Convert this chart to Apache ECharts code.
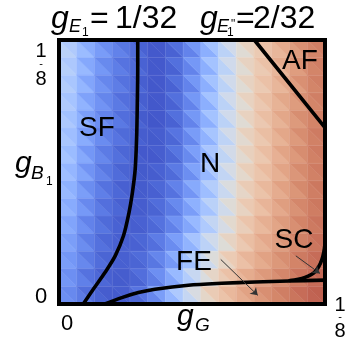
<!DOCTYPE html>
<html>
<head>
<meta charset="utf-8">
<script src="https://cdn.jsdelivr.net/npm/echarts@6/dist/echarts.min.js"></script>
<style>
  html, body { margin: 0; padding: 0; background: #fff; }
  #chart { width: 346px; height: 342px; }
</style>
</head>
<body>
<div id="chart"></div>
<script>
// Phase diagram in the (g_G, g_B1) plane, both couplings running from 0 to 1/8.
const G_MAX = 0.125;
const N_COLS = 15;
const N_ROWS = 15;

// Order-parameter map on a 15 x 15 grid, rows listed from g_B1 = 1/8 (top) down to 0.
// 0 = deep blue, 0.5 = neutral, 1 = deep red.
const cellValues = [
  [0.38, 0.26, 0.17, 0.11, 0.06, 0.02, 0.06, 0.15, 0.28, 0.42, 0.54, 0.61, 0.68, 0.76, 0.83],
  [0.37, 0.25, 0.16, 0.10, 0.06, 0.02, 0.06, 0.15, 0.28, 0.42, 0.54, 0.61, 0.68, 0.76, 0.83],
  [0.36, 0.24, 0.15, 0.10, 0.05, 0.02, 0.06, 0.15, 0.28, 0.42, 0.54, 0.61, 0.68, 0.76, 0.83],
  [0.35, 0.23, 0.15, 0.09, 0.05, 0.02, 0.06, 0.15, 0.28, 0.42, 0.54, 0.62, 0.69, 0.76, 0.83],
  [0.34, 0.22, 0.14, 0.09, 0.04, 0.02, 0.06, 0.15, 0.28, 0.42, 0.54, 0.62, 0.69, 0.77, 0.83],
  [0.33, 0.21, 0.13, 0.08, 0.04, 0.03, 0.07, 0.16, 0.29, 0.43, 0.55, 0.62, 0.69, 0.77, 0.84],
  [0.32, 0.20, 0.12, 0.07, 0.03, 0.03, 0.07, 0.17, 0.30, 0.43, 0.55, 0.62, 0.70, 0.77, 0.84],
  [0.30, 0.19, 0.11, 0.06, 0.03, 0.04, 0.08, 0.18, 0.31, 0.44, 0.56, 0.63, 0.70, 0.78, 0.84],
  [0.28, 0.17, 0.10, 0.05, 0.03, 0.05, 0.10, 0.20, 0.33, 0.46, 0.57, 0.64, 0.71, 0.78, 0.85],
  [0.26, 0.16, 0.09, 0.05, 0.03, 0.06, 0.12, 0.22, 0.35, 0.48, 0.58, 0.65, 0.72, 0.79, 0.85],
  [0.24, 0.14, 0.08, 0.04, 0.04, 0.07, 0.14, 0.25, 0.38, 0.50, 0.60, 0.67, 0.73, 0.80, 0.86],
  [0.22, 0.13, 0.07, 0.04, 0.05, 0.09, 0.17, 0.29, 0.42, 0.53, 0.62, 0.69, 0.75, 0.81, 0.87],
  [0.20, 0.12, 0.06, 0.04, 0.06, 0.11, 0.21, 0.34, 0.47, 0.57, 0.65, 0.71, 0.77, 0.83, 0.88],
  [0.18, 0.10, 0.05, 0.03, 0.06, 0.13, 0.25, 0.39, 0.52, 0.61, 0.68, 0.74, 0.79, 0.85, 0.89],
  [0.16, 0.09, 0.04, 0.03, 0.07, 0.16, 0.31, 0.45, 0.57, 0.64, 0.71, 0.77, 0.82, 0.87, 0.91]
];

// Phase boundaries, [g_G, g_B1]
const sfBoundary = [
  [0.0370, 0.1250], [0.0370, 0.1111], [0.0368, 0.0954], [0.0365, 0.0795],
  [0.0358, 0.0638], [0.0345, 0.0528], [0.0329, 0.0433], [0.0303, 0.0323],
  [0.0264, 0.0228], [0.0216, 0.0149], [0.0161, 0.0070], [0.0114, 0.0000]
];
const feBoundary = [
  [0.0216, 0.0000], [0.0295, 0.0030], [0.0373, 0.0054], [0.0451, 0.0070],
  [0.0608, 0.0089], [0.0765, 0.0098], [0.0921, 0.0104], [0.1078, 0.0109],
  [0.1250, 0.0113]
];
const scBoundary = [
  [0.1250, 0.0284], [0.1235, 0.0209], [0.1203, 0.0153], [0.1156, 0.0126],
  [0.1085, 0.0111]
];
const afBoundary = [
  [0.0918, 0.1250], [0.1250, 0.0835]
];

// Pointer arrows from the FE and SC labels
const pointerArrows = [
  [[0.0760, 0.0211], [0.0934, 0.0041]],
  [[0.1113, 0.0228], [0.1226, 0.0145]]
];

// Tick labels on both axes
const xTicks = [{ value: 0, label: '0' }, { value: G_MAX, label: '1/8' }];
const yTicks = [{ value: 0, label: '0' }, { value: G_MAX, label: '1/8' }];

// Phase names
const phaseLabels = ['SF', 'N', 'AF', 'SC', 'FE'];

// Diverging blue -> neutral -> brick-red colour scale
const colourScale = [
  '#3b4cc0', '#445acc', '#4d68d7', '#5775e1', '#6282ea', '#6c8ef1', '#779af7', '#82a5fb',
  '#8db0fe', '#98b9ff', '#a3c2ff', '#aec9fd', '#b8d0f9', '#c2d5f4', '#ccd9ee', '#d5dbe6',
  '#dddcd8', '#e3d8cc', '#e8d1bf', '#ebcab3', '#ebc2a8', '#e9b89c', '#e6ae91', '#e2a486',
  '#dd9a7c', '#d88f72', '#d38569', '#cd7a61', '#c76e59', '#c06251', '#b8564a', '#ae4943',
  '#a33a3b'
];

// Each cell is split along its diagonal; each half is shaded toward its horizontal neighbour.
const cellTriangles = [];
for (let r = 0; r < N_ROWS; r++) {
  for (let c = 0; c < N_COLS; c++) {
    const v = cellValues[r][c];
    const left = c > 0 ? cellValues[r][c - 1] : v;
    const right = c < N_COLS - 1 ? cellValues[r][c + 1] : v;
    cellTriangles.push([c, r, 0, (3 * v + left) / 4]);
    cellTriangles.push([c, r, 1, (3 * v + right) / 4]);
  }
}

const FONT = '"Liberation Sans", Arial, sans-serif';
const chart = echarts.init(document.getElementById('chart'), null, { renderer: 'canvas' });

const dx = G_MAX / N_COLS;
const dy = G_MAX / N_ROWS;

function boundarySeries(data, smooth) {
  return {
    type: 'line',
    data: data,
    smooth: smooth,
    showSymbol: false,
    symbol: 'none',
    silent: true,
    z: 5,
    clip: true,
    lineStyle: { color: '#000', width: 3.6, cap: 'round', join: 'round' }
  };
}

chart.setOption({
  animation: false,
  backgroundColor: '#fff',
  grid: { left: 59, top: 40, width: 266, height: 264, containLabel: false },
  xAxis: {
    type: 'value', min: 0, max: G_MAX, interval: G_MAX,
    axisLine: { show: false }, axisTick: { show: false },
    axisLabel: { show: false }, splitLine: { show: false }
  },
  yAxis: {
    type: 'value', min: 0, max: G_MAX, interval: G_MAX,
    axisLine: { show: false }, axisTick: { show: false },
    axisLabel: { show: false }, splitLine: { show: false }
  },
  visualMap: {
    type: 'continuous', show: false, min: 0, max: 1,
    dimension: 3, seriesIndex: 0,
    inRange: { color: colourScale }
  },
  series: [
    {
      type: 'custom',
      data: cellTriangles,
      silent: true,
      z: 1,
      renderItem: function (params, api) {
        const c = api.value(0), r = api.value(1), half = api.value(2);
        const x0 = c * dx, x1 = (c + 1) * dx;
        const yT = (N_ROWS - r) * dy, yB = (N_ROWS - 1 - r) * dy;
        const tl = api.coord([x0, yT]), tr = api.coord([x1, yT]);
        const bl = api.coord([x0, yB]), br = api.coord([x1, yB]);
        const pts = half === 0 ? [tl, bl, br] : [tl, tr, br];
        const col = api.visual('color');
        return {
          type: 'polygon',
          shape: { points: pts },
          style: { fill: col, stroke: col, lineWidth: 0.5 }
        };
      }
    },
    boundarySeries(sfBoundary, 0.3),
    boundarySeries(feBoundary, 0.3),
    boundarySeries(scBoundary, 0.4),
    boundarySeries(afBoundary, false),
    {
      type: 'lines',
      coordinateSystem: 'cartesian2d',
      silent: true,
      z: 6,
      symbol: ['none', 'arrow'],
      symbolSize: [0, 7],
      lineStyle: { color: '#333', width: 1, opacity: 1 },
      data: pointerArrows.map(p => ({ coords: p }))
    }
  ]
});

// Text, frame and ticks placed from the grid's pixel mapping
function px(pt) { return chart.convertToPixel({ gridIndex: 0 }, pt); }
function txt(x, y, text, size, opts) {
  opts = opts || {};
  return {
    type: 'text', x: x, y: y, z: 20, silent: true,
    style: {
      text: text,
      font: (opts.italic ? 'italic ' : '') + size + 'px ' + FONT,
      fill: '#000',
      align: opts.align || 'left', textAlign: opts.align || 'left',
      verticalAlign: 'middle', textVerticalAlign: 'middle'
    }
  };
}

const origin = px([0, 0]);
const corner = px([G_MAX, G_MAX]);
const graphics = [];

// faint seams along the cell edges
for (let c = 1; c < N_COLS; c++) {
  const a = px([c * dx, 0]), b = px([c * dx, G_MAX]);
  graphics.push({ type: 'line', z: 2, silent: true, shape: { x1: a[0], y1: a[1], x2: b[0], y2: b[1] },
    style: { stroke: 'rgba(255,255,255,0.10)', lineWidth: 0.8 } });
}
for (let r = 1; r < N_ROWS; r++) {
  const a = px([0, r * dy]), b = px([G_MAX, r * dy]);
  graphics.push({ type: 'line', z: 2, silent: true, shape: { x1: a[0], y1: a[1], x2: b[0], y2: b[1] },
    style: { stroke: 'rgba(255,255,255,0.10)', lineWidth: 0.8 } });
}

// plot frame
graphics.push({
  type: 'rect', z: 15, silent: true,
  shape: { x: origin[0], y: corner[1], width: corner[0] - origin[0], height: origin[1] - corner[1] },
  style: { fill: 'none', stroke: '#000', lineWidth: 4 }
});

// x tick labels
xTicks.forEach(t => {
  const p = px([t.value, 0]);
  if (t.label.indexOf('/') < 0) {
    graphics.push(txt(p[0] + 8, p[1] + 20, t.label, 22, { align: 'center' }));
  } else {
    const [num, den] = t.label.split('/');
    graphics.push(txt(p[0] + 15, p[1] + 1, num, 20, { align: 'center' }));
    graphics.push(txt(p[0] + 15, p[1] + 13, '-', 11, { align: 'center' }));
    graphics.push(txt(p[0] + 15, p[1] + 27, den, 20, { align: 'center' }));
  }
});
// y tick labels
yTicks.forEach(t => {
  const p = px([0, t.value]);
  if (t.label.indexOf('/') < 0) {
    graphics.push(txt(p[0] - 18, p[1] - 7, t.label, 22, { align: 'center' }));
  } else {
    const [num, den] = t.label.split('/');
    graphics.push(txt(p[0] - 18, p[1] + 11, num, 20, { align: 'center' }));
    graphics.push(txt(p[0] - 18, p[1] + 24, '-', 11, { align: 'center' }));
    graphics.push(txt(p[0] - 18, p[1] + 39, den, 20, { align: 'center' }));
  }
});

// axis names g_G and g_B1
graphics.push(txt(177, 317, 'g', 30, { italic: true }));
graphics.push(txt(195, 326, 'G', 19, { italic: true }));
graphics.push(txt(15, 164, 'g', 30, { italic: true }));
graphics.push(txt(31, 174, 'B', 19, { italic: true }));
graphics.push(txt(46, 182, '1', 12));

// header: g_E1 = 1/32   g_E1'' = 2/32
graphics.push(txt(51, 19, 'g', 32, { italic: true }));
graphics.push(txt(69, 27, 'E', 18, { italic: true }));
graphics.push(txt(82, 33, '1', 12));
graphics.push(txt(90, 19, '=', 32));
graphics.push(txt(115, 19, '1/32', 32));
graphics.push(txt(200, 19, 'g', 32, { italic: true }));
graphics.push(txt(217, 27, 'E', 18, { italic: true }));
graphics.push(txt(227, 33, '1', 12));
graphics.push(txt(231, 25, '"', 12));
graphics.push(txt(236, 19, '=', 32));
graphics.push(txt(253, 19, '2/32', 32));

// phase names
const phasePos = { SF: [97, 128], N: [210, 164], AF: [300, 61], SC: [294, 240], FE: [194, 262] };
phaseLabels.forEach(name => {
  const p = phasePos[name];
  graphics.push(txt(p[0], p[1], name, 28, { align: 'center' }));
});

chart.setOption({ graphic: { elements: graphics } });
</script>
</body>
</html>
